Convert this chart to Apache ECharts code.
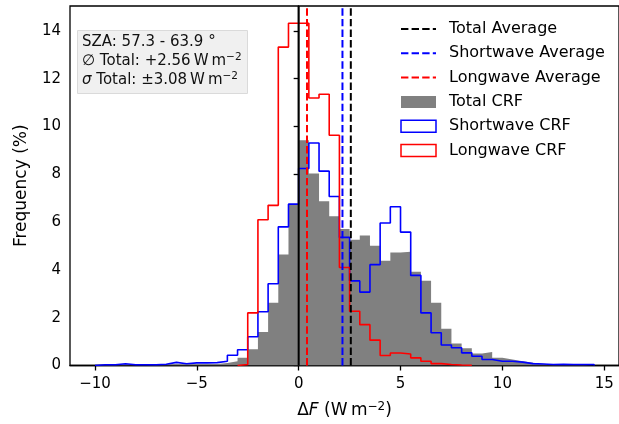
<!DOCTYPE html>
<html><head><meta charset="utf-8">
<script src="https://cdn.jsdelivr.net/npm/echarts@6/dist/echarts.min.js"></script>
<style>html,body{margin:0;padding:0;background:#fff}#c{width:619px;height:424px}</style>
</head><body><div id="c"></div>
<script>
// Histogram bins: left edges start at BIN_START, width BIN_WIDTH (49 bins, -10 .. 14.5)
const BIN_START = -10;
const BIN_WIDTH = 0.5;
const totalCRF = [0.02,0.02,0.02,0.01,0.01,0.02,0.02,0.05,0.03,0.04,0.05,0.06,0.10,0.18,0.32,0.68,1.40,2.62,4.64,6.73,
  9.42,8.03,6.87,6.24,5.71,5.26,5.44,5.01,4.38,4.73,4.76,3.92,3.55,2.62,1.54,0.92,0.72,0.50,0.56,0.32,0.25,0.18,0.11,0.07,0.04,0.03,0.02,0.02,0.02];
const shortwaveCRF = [0.03,0.03,0.07,0.03,0.03,0.03,0.05,0.13,0.07,0.11,0.11,0.12,0.18,0.43,0.66,1.20,2.25,3.42,5.80,6.75,
  8.24,9.31,8.13,7.07,5.36,3.54,3.07,4.22,5.96,6.64,5.58,3.77,2.20,1.37,0.86,0.74,0.53,0.39,0.25,0.18,0.18,0.14,0.08,0.06,0.04,0.05,0.04,0.04,0.04];
const longwaveCRF = [0,0,0,0,0,0,0,0,0,0,0,0,0,0,0.04,2.20,6.10,6.70,13.32,14.32,
  14.32,11.19,11.35,9.63,4.10,2.27,1.71,1.06,0.42,0.52,0.48,0.32,0.18,0.08,0.04,0.02,0.01,0,0,0,0,0,0,0,0,0,0,0,0];
const totalAverage = 2.56;
const shortwaveAverage = 2.15;
const longwaveAverage = 0.41;
const xTicks = [-10, -5, 0, 5, 10, 15];
const yTicks = [0, 2, 4, 6, 8, 10, 12, 14];
const X_MIN = -11.225, X_MAX = 15.725, Y_MAX = 15.04;

const FONT = 'DejaVu Sans';

function stepPoints(values, trim) {
  let a = 0, b = values.length - 1;
  if (trim) { while (a < b && values[a] === 0) a++; while (b > a && values[b] === 0) b--; }
  const pts = [[BIN_START + a * BIN_WIDTH, 0]];
  for (let i = a; i <= b; i++) pts.push([BIN_START + i * BIN_WIDTH, values[i]]);
  pts.push([BIN_START + (b + 1) * BIN_WIDTH, values[b]]);
  pts.push([BIN_START + (b + 1) * BIN_WIDTH, 0]);
  return pts;
}
function vline(x) { return [[x, 0], [x, Y_MAX]]; }
const minus = v => (v < 0 ? '\u2212' + Math.abs(v) : String(v));
const dash = [7.4, 3.2];
const hiddenSym = {opacity: 0, color: 'transparent', borderWidth: 0};

const chart = echarts.init(document.getElementById('c'), null, {renderer: 'canvas'});
chart.setOption({
  animation: false,
  backgroundColor: '#fff',
  grid: {left: 70, top: 6, width: 555, height: 360, show: true, borderColor: '#000', borderWidth: 1.3, backgroundColor: 'transparent'},
  title: {
    left: 77, top: 30, padding: [3, 6, 4, 5],
    backgroundColor: '#f0f0f0', borderColor: '#dadada', borderWidth: 1,
    text: '{n|SZA: 57.3 - 63.9 °}\n{n|\u2205 Total: +2.56\u2009W\u2009m}{sup|\u22122}\n{i|\u03c3}{n| Total: \u00b13.08\u2009W\u2009m}{sup|\u22122}',
    textStyle: {
      fontFamily: FONT, fontSize: 15, fontWeight: 'normal', color: '#111', lineHeight: 19,
      rich: {
        n: {fontFamily: FONT, fontSize: 15, color: '#111', lineHeight: 19},
        i: {fontFamily: FONT, fontSize: 15, color: '#111', fontStyle: 'italic', lineHeight: 19},
        sup: {fontFamily: FONT, fontSize: 10.5, color: '#111', lineHeight: 10, verticalAlign: 'top'}
      }
    }
  },
  legend: {
    orient: 'vertical', left: 400, top: 20, padding: 0,
    itemWidth: 35, itemHeight: 12, itemGap: 6.3, selectedMode: false,
    textStyle: {fontFamily: FONT, fontSize: 16, color: '#000', lineHeight: 18, padding: [0, 0, 0, 8]},
    data: [
      {name: 'Total Average', lineStyle: {color: '#000', width: 2, type: dash}, itemStyle: hiddenSym},
      {name: 'Shortwave Average', lineStyle: {color: '#0000ff', width: 2, type: dash}, itemStyle: hiddenSym},
      {name: 'Longwave Average', lineStyle: {color: '#ff0000', width: 2, type: dash}, itemStyle: hiddenSym},
      {name: 'Total CRF', icon: 'rect', itemStyle: {color: '#808080', borderWidth: 0}},
      {name: 'Shortwave CRF', icon: 'rect', itemStyle: {color: '#ffffff', borderColor: '#0000ff', borderWidth: 1.5}},
      {name: 'Longwave CRF', icon: 'rect', itemStyle: {color: '#ffffff', borderColor: '#ff0000', borderWidth: 1.5}}
    ]
  },
  xAxis: {
    type: 'value', min: X_MIN, max: X_MAX,
    axisLine: {show: true, onZero: false, lineStyle: {color: '#000', width: 1.3}},
    axisTick: {show: true, length: 5, customValues: xTicks, lineStyle: {color: '#000', width: 1.3}},
    axisLabel: {customValues: xTicks, formatter: minus, fontFamily: FONT, fontSize: 15, color: '#000', margin: 11},
    splitLine: {show: false},
    name: '{n|\u0394}{i|F}{n| (W\u2009m}{sup|\u22122}{n|)}', nameLocation: 'middle', nameGap: 35,
    nameTextStyle: {
      fontFamily: FONT, fontSize: 17, color: '#000',
      rich: {
        n: {fontFamily: FONT, fontSize: 17, color: '#000', lineHeight: 20},
        i: {fontFamily: FONT, fontSize: 17, color: '#000', fontStyle: 'italic', lineHeight: 20},
        sup: {fontFamily: FONT, fontSize: 12, color: '#000', lineHeight: 12, verticalAlign: 'top'}
      }
    }
  },
  yAxis: {
    type: 'value', min: 0, max: Y_MAX,
    axisLine: {show: true, lineStyle: {color: '#000', width: 1.3}},
    axisTick: {show: true, length: 5, customValues: yTicks, lineStyle: {color: '#000', width: 1.3}},
    axisLabel: {customValues: yTicks, fontFamily: FONT, fontSize: 15, color: '#000', margin: 9},
    splitLine: {show: false},
    name: 'Frequency (%)', nameLocation: 'middle', nameGap: 40,
    nameTextStyle: {fontFamily: FONT, fontSize: 17, color: '#000'}
  },
  series: [
    {name: 'Total CRF', type: 'line', step: 'end', data: stepPoints(totalCRF, false), showSymbol: false, symbol: 'none',
      lineStyle: {width: 0, color: '#808080'}, itemStyle: {color: '#808080'}, areaStyle: {color: '#808080', opacity: 1}, z: 2},
    {name: 'Shortwave CRF', type: 'line', step: 'end', data: stepPoints(shortwaveCRF, false), symbol: 'none',
      lineStyle: {width: 1.6, color: '#0000ff'}, itemStyle: {color: '#0000ff'}, z: 3},
    {name: 'Longwave CRF', type: 'line', step: 'end', data: stepPoints(longwaveCRF, true), symbol: 'none',
      lineStyle: {width: 1.6, color: '#ff0000'}, itemStyle: {color: '#ff0000'}, z: 4},
    {name: 'zero', type: 'line', data: vline(0), symbol: 'none', lineStyle: {width: 2, color: '#000'}, z: 5},
    {name: 'Total Average', type: 'line', data: vline(totalAverage), symbol: 'none',
      lineStyle: {width: 2, color: '#000', type: dash}, itemStyle: {color: '#000'}, z: 6},
    {name: 'Shortwave Average', type: 'line', data: vline(shortwaveAverage), symbol: 'none',
      lineStyle: {width: 2, color: '#0000ff', type: dash}, itemStyle: {color: '#0000ff'}, z: 6},
    {name: 'Longwave Average', type: 'line', data: vline(longwaveAverage), symbol: 'none',
      lineStyle: {width: 2, color: '#ff0000', type: dash}, itemStyle: {color: '#ff0000'}, z: 6}
  ]
});
</script></body></html>
